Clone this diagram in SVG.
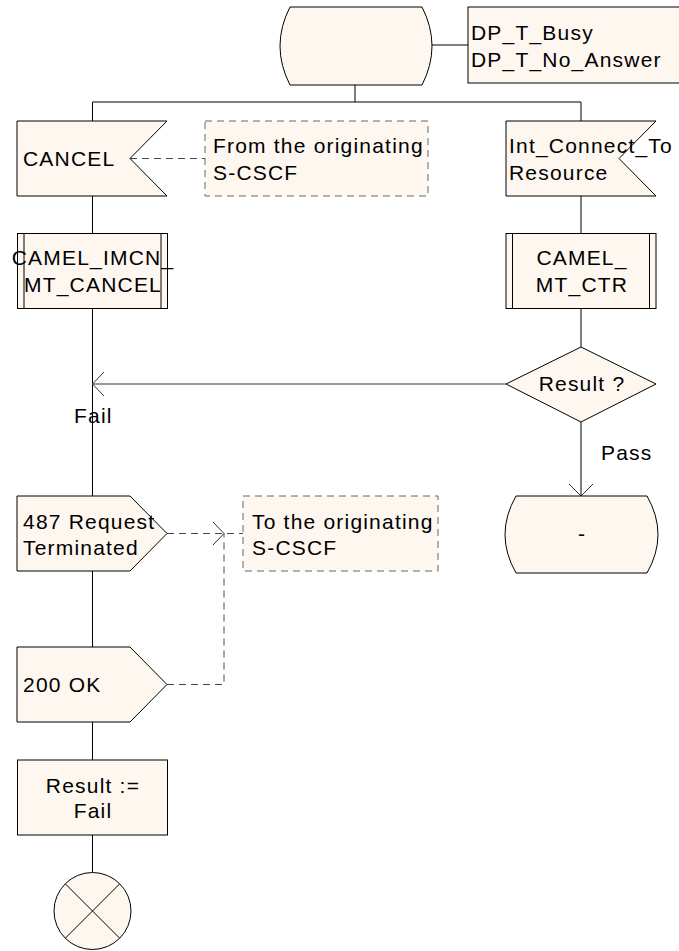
<svg xmlns="http://www.w3.org/2000/svg" width="679" height="951" viewBox="0 0 679 951">
<style>
.s{fill:#FDF7F0;stroke:#000;stroke-width:1}
.d{fill:#FDF7F0;stroke:#666;stroke-width:1;stroke-dasharray:7,5}
.l{fill:none;stroke:#000;stroke-width:1}
.dl{fill:none;stroke:#444;stroke-width:1;stroke-dasharray:7,5}
.a{fill:none;stroke:#333;stroke-width:1}
text{font-family:"Liberation Sans",Arial,sans-serif;font-size:21px;letter-spacing:1.2px;fill:#000}
.m{text-anchor:middle}
</style>
<rect width="679" height="951" fill="#fff"/>
<g id="connectors">
<polyline class="l" points="355,85 355,102"/>
<polyline class="l" points="432,45 468,45"/>
<polyline class="l" points="92.5,121 92.5,102 581,102 581,121"/>
<line class="l" x1="92.5" y1="196" x2="92.5" y2="233"/>
<line class="l" x1="92.5" y1="308" x2="92.5" y2="496"/>
<line class="l" x1="92.5" y1="571" x2="92.5" y2="647"/>
<line class="l" x1="92.5" y1="722" x2="92.5" y2="760"/>
<line class="l" x1="92.5" y1="835" x2="92.5" y2="872"/>
<line class="l" x1="581" y1="196" x2="581" y2="233"/>
<line class="l" x1="581" y1="308" x2="581" y2="347"/>
<line class="l" x1="581" y1="422" x2="581" y2="496"/>
<polyline class="a" points="569,484 581,496 593,484"/>
<line class="a" x1="506" y1="384" x2="92.5" y2="384"/>
<polyline class="a" points="104,372 92.5,384 104,396"/>
<line class="dl" x1="130" y1="158.5" x2="205" y2="158.5"/>
<line class="dl" x1="167" y1="533.5" x2="243" y2="533.5"/>
<polyline class="a" points="213,522 224,533.5 213,545"/>
<polyline class="dl" points="167,684.5 224,684.5 224,533.5"/>
<text x="74" y="423">Fail</text>
<text x="601" y="460">Pass</text>
</g>
<g id="start">
<path class="s" d="M290,7 L422,7 Q442,46 422,85 L290,85 Q270,46 290,7 Z"/>
</g>
<g id="dpnote">
<rect class="s" x="468" y="7" width="215" height="76"/>
<text x="471" y="40">DP_T_Busy</text>
<text x="471" y="67">DP_T_No_Answer</text>
</g>
<g id="cancel">
<path class="s" d="M17,121 L167,121 L130,158.5 L167,196 L17,196 Z"/>
<text x="23" y="166">CANCEL</text>
</g>
<g id="from">
<rect class="d" x="205" y="121" width="223" height="75"/>
<text x="213" y="153">From the originating</text>
<text x="213" y="180">S-CSCF</text>
</g>
<g id="intconnect">
<path class="s" d="M506,121 L656,121 L619,158.5 L656,196 L506,196 Z"/>
<text x="509" y="153">Int_Connect_To</text>
<text x="509" y="180">Resource</text>
</g>
<g id="proc1">
<rect class="s" x="17.5" y="233.5" width="150" height="75"/>
<line class="l" x1="24" y1="233.5" x2="24" y2="308.5"/>
<line class="l" x1="161" y1="233.5" x2="161" y2="308.5"/>
<text class="m" x="93" y="265">CAMEL_IMCN_</text>
<text class="m" x="93" y="292">MT_CANCEL</text>
</g>
<g id="proc2">
<rect class="s" x="506" y="233.5" width="150" height="75"/>
<line class="l" x1="512.5" y1="233.5" x2="512.5" y2="308.5"/>
<line class="l" x1="649.5" y1="233.5" x2="649.5" y2="308.5"/>
<text class="m" x="582" y="265">CAMEL_</text>
<text class="m" x="582" y="292">MT_CTR</text>
</g>
<g id="decision">
<path class="s" d="M581,347 L656,384 L581,422 L506,384 Z"/>
<text class="m" x="582" y="391">Result ?</text>
</g>
<g id="endstate">
<path class="s" d="M516,496 L647,496 Q669,534.5 647,573 L516,573 Q494,534.5 516,496 Z"/>
<text class="m" x="582" y="541">-</text>
</g>
<g id="out487">
<path class="s" d="M17,496 L130,496 L167,533.5 L130,571 L17,571 Z"/>
<text x="23" y="529">487 Request</text>
<text x="23" y="555">Terminated</text>
</g>
<g id="to">
<rect class="d" x="243" y="496" width="195" height="75"/>
<text x="252" y="529">To the originating</text>
<text x="252" y="555">S-CSCF</text>
</g>
<g id="out200">
<path class="s" d="M17,647 L130,647 L167,684.5 L130,722 L17,722 Z"/>
<text x="23" y="692">200 OK</text>
</g>
<g id="task">
<rect class="s" x="17.5" y="760" width="150" height="75"/>
<text class="m" x="93" y="793">Result :=</text>
<text class="m" x="93" y="818">Fail</text>
</g>
<g id="stop">
<circle class="s" cx="92.5" cy="911" r="38.5"/>
<line class="l" x1="65.5" y1="884" x2="119.5" y2="938"/>
<line class="l" x1="119.5" y1="884" x2="65.5" y2="938"/>
</g>
</svg>
